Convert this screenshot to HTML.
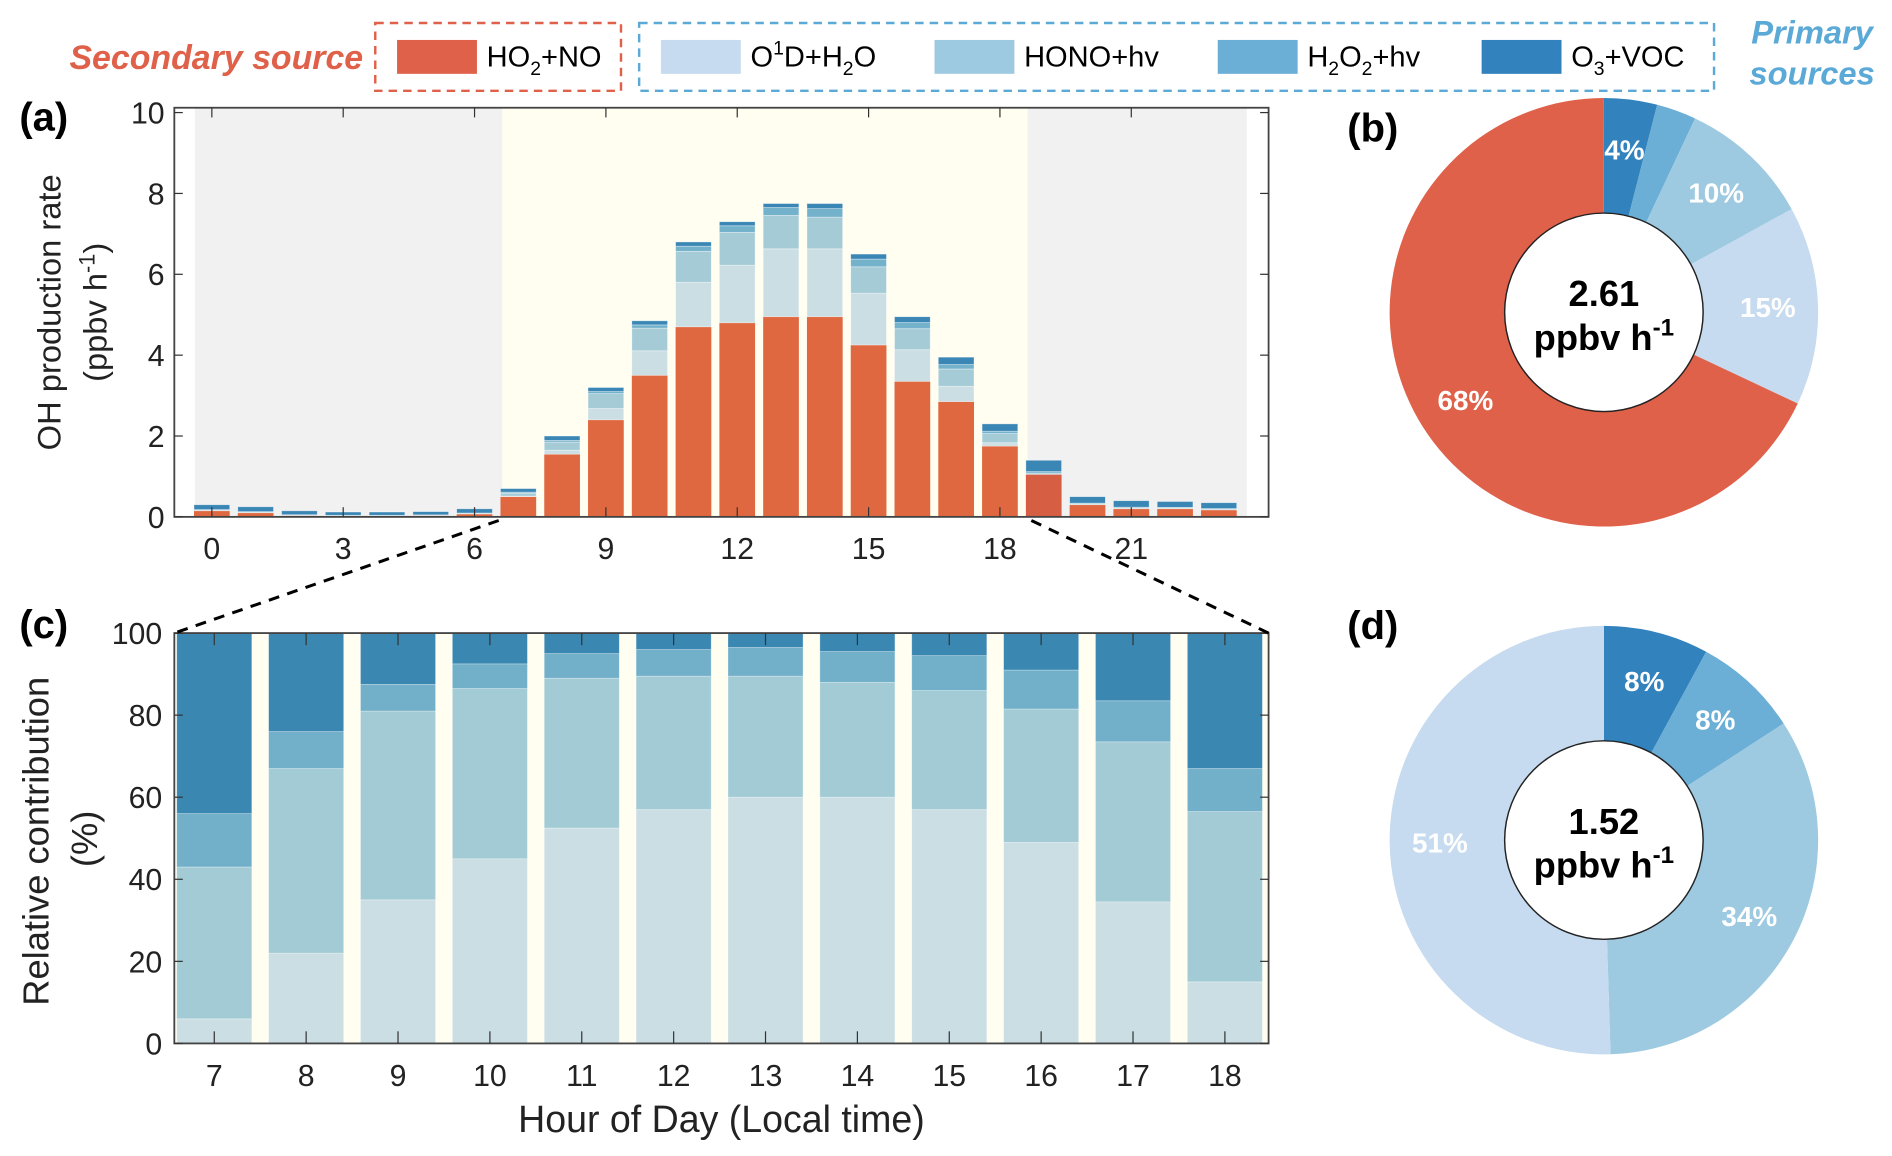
<!DOCTYPE html>
<html><head><meta charset="utf-8">
<style>
html,body{margin:0;padding:0;background:#fff;}
svg{display:block;font-family:"Liberation Sans",Arial,sans-serif;}
</style></head>
<body>
<svg id="fig" width="1892" height="1156" viewBox="0 0 1563 955" xmlns="http://www.w3.org/2000/svg">
<g id="legend">
  <text x="300" y="57" text-anchor="end" font-size="28" font-weight="bold" font-style="italic" fill="#e0614a">Secondary source</text>
  <rect x="310" y="19" width="203" height="56" fill="none" stroke="#e0614a" stroke-width="2" stroke-dasharray="7,5"/>
  <rect x="528" y="19" width="888" height="56" fill="none" stroke="#5aa9d6" stroke-width="2" stroke-dasharray="7,5"/>
  <g><rect x="328" y="33" width="66" height="28" fill="#e0614a"/><text x="402" y="55" font-size="24">HO<tspan font-size="16" dy="7">2</tspan><tspan dy="-7">+NO</tspan></text></g>
  <g><rect x="546" y="33" width="66" height="28" fill="#c6dbef"/><text x="620" y="55" font-size="24">O<tspan font-size="16" dy="-10">1</tspan><tspan dy="10">D+H</tspan><tspan font-size="16" dy="7">2</tspan><tspan dy="-7">O</tspan></text></g>
  <g><rect x="772" y="33" width="66" height="28" fill="#9ecae1"/><text x="846" y="55" font-size="24">HONO+hv</text></g>
  <g><rect x="1006" y="33" width="66" height="28" fill="#6baed6"/><text x="1080" y="55" font-size="24">H<tspan font-size="16" dy="7">2</tspan><tspan dy="-7">O</tspan><tspan font-size="16" dy="7">2</tspan><tspan dy="-7">+hv</tspan></text></g>
  <g><rect x="1224" y="33" width="66" height="28" fill="#3182bd"/><text x="1298" y="55" font-size="24">O<tspan font-size="16" dy="7">3</tspan><tspan dy="-7">+VOC</tspan></text></g>
  <text font-size="27" font-weight="bold" font-style="italic" fill="#5aa9d6" text-anchor="middle"><tspan x="1497" y="36">Primary</tspan><tspan x="1497" y="70">sources</tspan></text>
</g>
<g id="pa"></g>
<g id="pc"></g>
<g id="pb"></g>
<g id="pd"></g>
<line x1="412" y1="430" x2="144" y2="523" stroke="#000" stroke-width="2.5" stroke-dasharray="9,7"/>
<line x1="852" y1="430" x2="1048" y2="523" stroke="#000" stroke-width="2.5" stroke-dasharray="9,7"/>
</svg>
<script>
// ---- Panel (a) data ----
const hoursA = [0,1,2,3,4,5,6,7,8,9,10,11,12,13,14,15,16,17,18,19,20,21,22,23];
const totalA = [0.3,0.25,0.15,0.12,0.12,0.13,0.2,0.7,2.0,3.2,4.85,6.8,7.3,7.75,7.75,6.5,4.95,3.95,2.3,1.4,0.5,0.4,0.38,0.35];
const ho2noA = [0.15,0.1,0.03,0.02,0.02,0.03,0.07,0.5,1.55,2.4,3.5,4.7,4.8,4.95,4.95,4.25,3.35,2.85,1.75,1.05,0.3,0.2,0.2,0.17];
const yTicksA = [0,2,4,6,8,10];
const xTicksA = [0,3,6,9,12,15,18,21];
// ---- Panel (c) data (% of primary) ----
const hoursC = [7,8,9,10,11,12,13,14,15,16,17,18];
const o1dC  = [6,22,35,45,52.5,57,60,60,57,49,34.5,15];
const honoC = [37,45,46,41.5,36.5,32.5,29.5,28,29,32.5,39,41.5];
const h2o2C = [13,9,6.5,6,6,6.5,7,7.5,8.5,9.5,10,10.5];
const o3vocC = [44,24,12.5,7.5,5,4,3.5,4.5,5.5,9,16.5,33];
const yTicksC = [0,20,40,60,80,100];
// night fractions for panel (a)
const nightFrac = [0,0.1,0.1,0.8];
// ---- Donut data ----
const donutBLabels = ['O3+VOC','H2O2+hv','HONO+hv','O1D+H2O','HO2+NO'];
const donutBValues = [4,3,10,15,68];
const donutDLabels = ['O3+VOC','H2O2+hv','HONO+hv','O1D+H2O'];
const donutDValues = [8,8,34,51];

const NS='http://www.w3.org/2000/svg';
function el(tag, attrs, parent, txt){const e=document.createElementNS(NS,tag);for(const k in attrs)e.setAttribute(k,attrs[k]);if(txt!==undefined)e.textContent=txt;parent.appendChild(e);return e;}

// ---------- Panel a ----------
const pa=document.getElementById('pa');
const AX={l:144,r:1048,t:89,b:427};
const xa=h=>175+h*36.17;
const ya=v=>427-v*33.4;
let r=el('rect',{x:161,y:AX.t,width:415-161,height:AX.b-AX.t,fill:'#f1f1f1'},pa);

r=el('rect',{x:415,y:AX.t,width:849-415,height:AX.b-AX.t,fill:'#fffef0'},pa);

r=el('rect',{x:849,y:AX.t,width:1030-849,height:AX.b-AX.t,fill:'#f1f1f1'},pa);

const colA=['#cbdee3','#a5ccd6','#74b1cb','#3a86b5'];
const bwA=29.5;
hoursA.forEach((h,i)=>{
  const g=el('g',{},pa);
  
  
  const isDay=h>=7&&h<=18;
  const red=ho2noA[i];
  const rb=el('rect',{x:xa(h)-bwA/2,y:ya(red),width:bwA,height:ya(0)-ya(red),fill:h===19?'#d65e43':'#e06840'},g);
  
  const prim=totalA[i]-red;
  let fr;
  if(isDay){const k=hoursC.indexOf(h);fr=[o1dC[k],honoC[k],h2o2C[k],o3vocC[k]].map(v=>v/100);}
  else fr=nightFrac;
  let acc=red;
  fr.forEach((f,j)=>{const v=prim*f;if(v<=0)return;
    const s=el('rect',{x:xa(h)-bwA/2,y:ya(acc+v),width:bwA,height:ya(acc)-ya(acc+v),fill:colA[j],stroke:'rgba(255,255,255,0.5)','stroke-width':0.6},g);
    
    acc+=v;});
});
r=el('rect',{x:AX.l,y:AX.t,width:AX.r-AX.l,height:AX.b-AX.t,fill:'none',stroke:'#444','stroke-width':1.5},pa);

yTicksA.forEach(v=>{
  el('line',{x1:AX.l,x2:AX.l+7,y1:ya(v),y2:ya(v),stroke:'#333'},pa);
  el('line',{x1:AX.r,x2:AX.r-7,y1:ya(v),y2:ya(v),stroke:'#333'},pa);
  const t=el('text',{x:AX.l-8,y:ya(v)+9,'text-anchor':'end','font-size':25,fill:'#222'},pa,String(v));
  
});
xTicksA.forEach(v=>{
  el('line',{x1:xa(v),x2:xa(v),y1:AX.b,y2:AX.b-8,stroke:'#333'},pa);
  el('line',{x1:xa(v),x2:xa(v),y1:AX.t,y2:AX.t+8,stroke:'#333'},pa);
  const t=el('text',{x:xa(v),y:AX.b+35,'text-anchor':'middle','font-size':25,fill:'#222'},pa,String(v));
  
});
let t=el('text',{x:16,y:108,'font-size':33,'font-weight':'bold'},pa,'(a)');

t=el('text',{transform:'translate(50,258) rotate(-90)','text-anchor':'middle','font-size':27,fill:'#222'},pa,'OH production rate');

t=el('text',{transform:'translate(88,258) rotate(-90)','text-anchor':'middle','font-size':27,fill:'#222'},pa);
t.innerHTML='(ppbv h<tspan font-size="18" dy="-10">-1</tspan><tspan dy="10">)</tspan>';


// ---------- Panel c ----------
const pc=document.getElementById('pc');
const CX={l:144,r:1048,t:523,b:862};
const xc=h=>177+(h-7)*75.9;
const yc=v=>862-v*3.39;
r=el('rect',{x:CX.l,y:CX.t,width:CX.r-CX.l,height:CX.b-CX.t,fill:'#fffef0'},pc);

const colC=['#cbdee3','#a3cbd5','#72b0ca','#3a87b2'];
const bwC=62;
hoursC.forEach((h,i)=>{
  const g=el('g',{},pc);
  
  
  const vals=[o1dC[i],honoC[i],h2o2C[i],o3vocC[i]];
  const sum=vals.reduce((a,b)=>a+b,0);
  let acc=0;
  vals.forEach((v,j)=>{const vv=v*100/sum;
    const s=el('rect',{x:xc(h)-bwC/2,y:yc(acc+vv),width:bwC,height:yc(acc)-yc(acc+vv),fill:colC[j],stroke:'rgba(255,255,255,0.4)','stroke-width':0.6},g);
    
    acc+=vv;});
});
r=el('rect',{x:CX.l,y:CX.t,width:CX.r-CX.l,height:CX.b-CX.t,fill:'none',stroke:'#444','stroke-width':1.5},pc);

yTicksC.forEach(v=>{
  el('line',{x1:CX.l,x2:CX.l+7,y1:yc(v),y2:yc(v),stroke:'#333'},pc);
  el('line',{x1:CX.r,x2:CX.r-7,y1:yc(v),y2:yc(v),stroke:'#333'},pc);
  const t=el('text',{x:CX.l-10,y:yc(v)+9,'text-anchor':'end','font-size':25,fill:'#222'},pc,String(v));
  
});
hoursC.forEach(v=>{
  el('line',{x1:xc(v),x2:xc(v),y1:CX.b,y2:CX.b-10,stroke:'#333'},pc);
  el('line',{x1:xc(v),x2:xc(v),y1:CX.t,y2:CX.t+10,stroke:'#333'},pc);
  const t=el('text',{x:xc(v),y:CX.b+35,'text-anchor':'middle','font-size':25,fill:'#222'},pc,String(v));
  
});
t=el('text',{x:16,y:527,'font-size':33,'font-weight':'bold'},pc,'(c)');

t=el('text',{transform:'translate(40,695) rotate(-90)','text-anchor':'middle','font-size':30,fill:'#222'},pc,'Relative contribution');

t=el('text',{transform:'translate(80,693) rotate(-90)','text-anchor':'middle','font-size':30,fill:'#222'},pc,'(%)');

t=el('text',{x:596,y:935,'text-anchor':'middle','font-size':31,fill:'#222'},pc,'Hour of Day (Local time)');


// ---------- Donuts ----------
function donut(parent, cx, cy, R, ri, labels, values, colors, labelShow, center, panelLabel, plx, ply){
  const sum=values.reduce((a,b)=>a+b,0);
  let a0=0;
  values.forEach((v,i)=>{
    const a1=a0+v/sum*2*Math.PI;
    const p=(a)=>[cx+R*Math.sin(a),cy-R*Math.cos(a)];
    const [x0,y0]=p(a0),[x1,y1]=p(a1);
    const large=(a1-a0)>Math.PI?1:0;
    const path=el('path',{d:`M${cx},${cy} L${x0},${y0} A${R},${R} 0 ${large} 1 ${x1},${y1} Z`,fill:colors[i]},parent);
    
    
    if(labelShow[i]){
      const am=(a0+a1)/2, rl=(R+ri)/2+6;
      const tt=el('text',{x:cx+rl*Math.sin(am),y:cy-rl*Math.cos(am)+8,'text-anchor':'middle','font-size':23,'font-weight':'bold',fill:'#fff'},parent,Math.round(v)+'%');
      
    }
    a0=a1;
  });
  const c=el('circle',{cx:cx,cy:cy,r:ri,fill:'#fff',stroke:'#222','stroke-width':1.2},parent);
  
  let tt=el('text',{x:cx,y:cy-5,'text-anchor':'middle','font-size':30,'font-weight':'bold'},parent,center);
  
  tt=el('text',{x:cx,y:cy+31,'text-anchor':'middle','font-size':30,'font-weight':'bold'},parent);
  tt.innerHTML='ppbv h<tspan font-size="20" dy="-12">-1</tspan>';
  
  tt=el('text',{x:plx,y:ply,'font-size':33,'font-weight':'bold'},parent,panelLabel);
  
}
donut(document.getElementById('pb'),1325,258,177,82,donutBLabels,donutBValues,['#3182bd','#6baed6','#9ecae1','#c6dbef','#e0614a'],[true,false,true,true,true],'2.61','(b)',1113,117);
donut(document.getElementById('pd'),1325,694,177,82,donutDLabels,donutDValues,['#3182bd','#6baed6','#9ecae1','#c6dbef'],[true,true,true,true],'1.52','(d)',1113,528);
</script>
</body></html>
